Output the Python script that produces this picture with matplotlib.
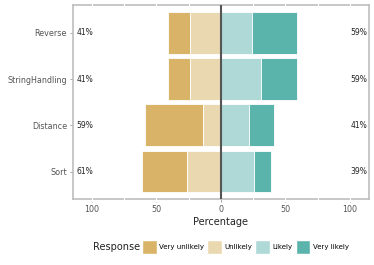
import matplotlib.pyplot as plt
from matplotlib.patches import Patch

categories = ['Reverse', 'StringHandling', 'Distance', 'Sort']
very_unlikely = [17, 17, 45, 35]
unlikely = [24, 24, 14, 26]
likely = [24, 31, 22, 26]
very_likely = [35, 28, 19, 13]

levels = ['Very unlikely', 'Unlikely', 'Likely', 'Very likely']
colors = ['#D9B468', '#EAD8B0', '#AED9D6', '#5BB4AB']

fig = plt.figure(figsize=(3.74, 2.65), dpi=100)
ax = fig.add_axes([0.194, 0.248, 0.793, 0.733])

ypos = list(range(len(categories), 0, -1))
neg = [a + b for a, b in zip(very_unlikely, unlikely)]
pos = [a + b for a, b in zip(likely, very_likely)]

bh = 0.9
ax.barh(ypos, very_unlikely, left=[-n for n in neg], height=bh, color=colors[0], edgecolor='white', linewidth=0.6)
ax.barh(ypos, unlikely, left=[-u for u in unlikely], height=bh, color=colors[1], edgecolor='white', linewidth=0.6)
ax.barh(ypos, likely, left=0, height=bh, color=colors[2], edgecolor='white', linewidth=0.6)
ax.barh(ypos, very_likely, left=likely, height=bh, color=colors[3], edgecolor='white', linewidth=0.6)

ax.axvline(0, color='#555555', lw=1.5, zorder=5)

for y, n, p in zip(ypos, neg, pos):
    ax.text(-112, y, f'{round(n)}%', ha='left', va='center', fontsize=5.5, color='#222222')
    ax.text(113.5, y, f'{round(p)}%', ha='right', va='center', fontsize=5.5, color='#222222')

ax.set_xlim(-115, 115)
ax.set_ylim(0.4, 4.6)
ax.set_yticks(ypos)
ax.set_yticklabels(categories, fontsize=5.8, color='#555555')
ax.set_xticks([-100, -50, 0, 50, 100])
ax.set_xticklabels(['100', '50', '0', '50', '100'], fontsize=5.8, color='#555555')
ax.tick_params(length=2, width=0.6, color='#999999', pad=2)
ax.set_xlabel('Percentage', fontsize=7, color='#222222', labelpad=2)

for s in ax.spines.values():
    s.set_color('#BEBEBE')
    s.set_linewidth(1.2)

# white grid gaps showing on the border
for gx in [-100, -75, -50, -25, 25, 50, 75, 100]:
    ax.plot([gx, gx], [4.57, 4.63], color='white', lw=0.8, zorder=6, clip_on=False)
    ax.plot([gx, gx], [0.37, 0.43], color='white', lw=0.8, zorder=6, clip_on=False)

handles = [Patch(facecolor=c, edgecolor='white', label=l) for c, l in zip(colors, levels)]
fig.legend(handles=handles, loc='center left', bbox_to_anchor=(0.38, 0.068), ncol=4,
           frameon=False, fontsize=5.0, handlelength=2.1, handleheight=2.9,
           handletextpad=0.4, columnspacing=0.4, borderpad=0, borderaxespad=0)
fig.text(0.249, 0.068, 'Response', fontsize=7, color='#222222', va='center', ha='left')

fig.savefig('out.png', dpi=100)
